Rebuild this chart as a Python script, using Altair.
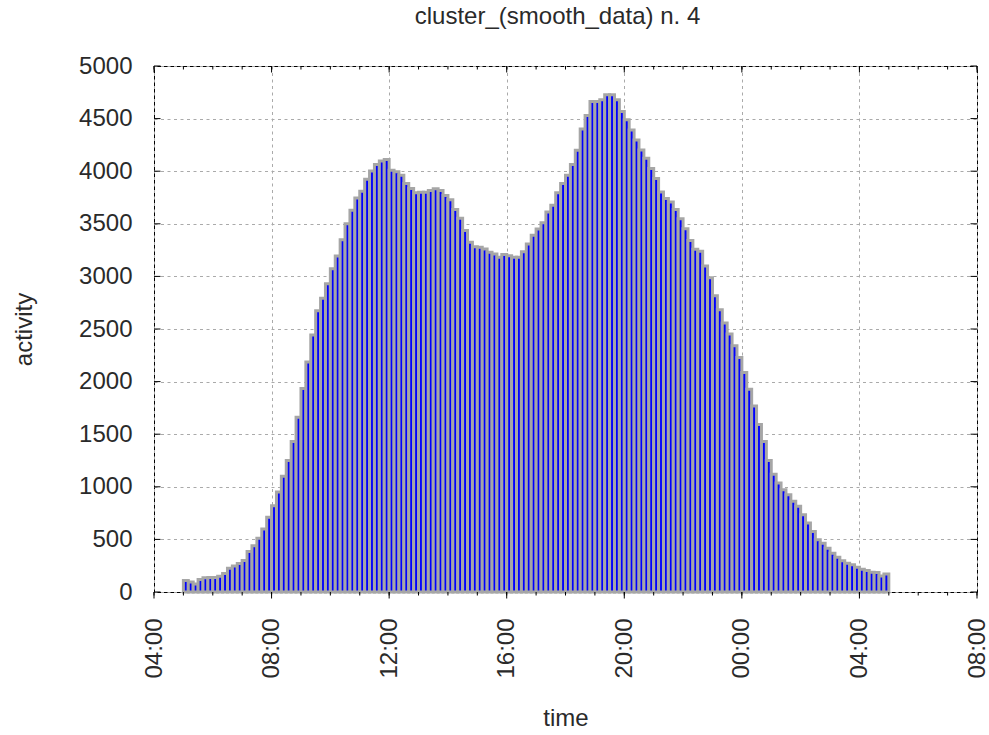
import altair as alt
import pandas as pd

TITLE = "cluster_(smooth_data) n. 4"
X_TITLE = "time"
Y_TITLE = "activity"

FIRST_BIN = "2020-01-01 05:00"
BIN_MINUTES = 10
X_START = "2020-01-01 04:00"
X_END = "2020-01-02 08:00"

activity = [
    110, 95, 75, 120, 135, 137,
    137, 150, 175, 225, 248, 270,
    300, 385, 440, 510, 600, 710,
    820, 950, 1100, 1250, 1430, 1660,
    1934, 2187, 2442, 2674, 2792, 2929,
    3072, 3193, 3349, 3501, 3628, 3746,
    3810, 3924, 4001, 4064, 4096, 4112,
    4010, 3994, 3962, 3883, 3835, 3794,
    3801, 3801, 3817, 3833, 3817, 3769,
    3728, 3636, 3553, 3436, 3324, 3283,
    3277, 3261, 3229, 3213, 3181, 3207,
    3197, 3181, 3181, 3235, 3308, 3390,
    3450, 3510, 3612, 3676, 3794, 3883,
    3962, 4064, 4200, 4400, 4530, 4662,
    4662, 4678, 4726, 4726, 4678, 4567,
    4488, 4392, 4297, 4201, 4122, 4026,
    3931, 3803, 3740, 3708, 3637, 3549,
    3454, 3342, 3257, 3238, 3098, 2986,
    2817, 2684, 2557, 2452, 2340, 2229,
    2086, 1927, 1768, 1593, 1430, 1250,
    1120, 1037, 973, 925, 862, 814,
    735, 655, 576, 496, 464, 417,
    369, 331, 296, 274, 258, 235,
    216, 204, 188, 185, 153, 172,
]
y_ticks = [0, 500, 1000, 1500, 2000, 2500, 3000, 3500, 4000, 4500, 5000]

FONT = "Liberation Sans"
TEXT = "#2a2a2a"
W, H = 823, 526

bins = pd.date_range(FIRST_BIN, periods=len(activity), freq=f"{BIN_MINUTES}min")
df = pd.DataFrame({
    "start": bins,
    "end": bins + pd.Timedelta(minutes=BIN_MINUTES),
    "activity": activity,
})
hours = pd.date_range(X_START, X_END, freq="1h")
minor_df = pd.DataFrame({"t": hours})
major_hours = hours[hours.hour % 4 == 0]
major_df = pd.DataFrame({"t": major_hours})
yt_df = pd.DataFrame({"v": y_ticks})


def dt(ts):
    return alt.DateTime(year=ts.year, month=ts.month, date=ts.day, hours=ts.hour)


x_scale = alt.Scale(domain=[dt(pd.Timestamp(X_START)), dt(pd.Timestamp(X_END))])
y_scale = alt.Scale(domain=[0, 5000], nice=False)

x_axis = alt.Axis(values=[dt(t) for t in major_hours], format="%H:%M",
                  labelAngle=270, labelPadding=26, labelFlush=False,
                  labelOverlap=False, titlePadding=28)
y_axis = alt.Axis(values=y_ticks, format="d", labelPadding=22,
                  labelOverlap=False, titlePadding=42)


def xenc(field):
    return alt.X(field, scale=x_scale, axis=x_axis, title=X_TITLE)


def yenc(field):
    return alt.Y(field, scale=y_scale, axis=y_axis, title=Y_TITLE)


bars = alt.Chart(df).mark_bar(
    fill="#0000ff", stroke="#a6a6a6", strokeWidth=3
).encode(
    x=xenc("start:T"),
    x2="end:T",
    y=yenc("activity:Q"),
    y2=alt.datum(0),
)

bottom_minor = alt.Chart(minor_df).mark_rule(color="black").encode(
    x=xenc("t:T"), y=alt.value(H), y2=alt.value(H + 3.5))
bottom_major = alt.Chart(major_df).mark_rule(color="black").encode(
    x=xenc("t:T"), y=alt.value(H), y2=alt.value(H + 6.5))
top_minor = alt.Chart(minor_df).mark_rule(color="black").encode(
    x=xenc("t:T"), y=alt.value(0), y2=alt.value(3.5))
top_major = alt.Chart(major_df).mark_rule(color="black").encode(
    x=xenc("t:T"), y=alt.value(0), y2=alt.value(6.5))
left_ticks = alt.Chart(yt_df).mark_rule(color="black").encode(
    y=yenc("v:Q"), x=alt.value(0), x2=alt.value(6.5))
right_ticks = alt.Chart(yt_df).mark_rule(color="black").encode(
    y=yenc("v:Q"), x=alt.value(W - 6.5), x2=alt.value(W))

chart = alt.layer(
    bars, bottom_minor, bottom_major, top_minor, top_major, left_ticks, right_ticks
).properties(
    width=W, height=H,
    autosize=alt.AutoSizeParams(type="none"),
    padding={"left": 154, "top": 66, "right": 12, "bottom": 143},
    title=alt.TitleParams(TITLE, font=FONT, fontSize=24, fontWeight="normal",
                          color=TEXT, anchor="middle", baseline="alphabetic",
                          offset=6, dx=-8),
).configure_view(
    stroke="black", strokeWidth=1
).configure_axis(
    grid=True, gridColor="#aaaaaa", gridDash=[3, 3.5], gridWidth=1,
    domain=False, ticks=False,
    labelFont=FONT, labelFontSize=24, labelColor=TEXT,
    titleFont=FONT, titleFontSize=24, titleFontWeight="normal", titleColor=TEXT,
)

chart.save("out.html", embed_options={"renderer": "svg", "actions": False})
